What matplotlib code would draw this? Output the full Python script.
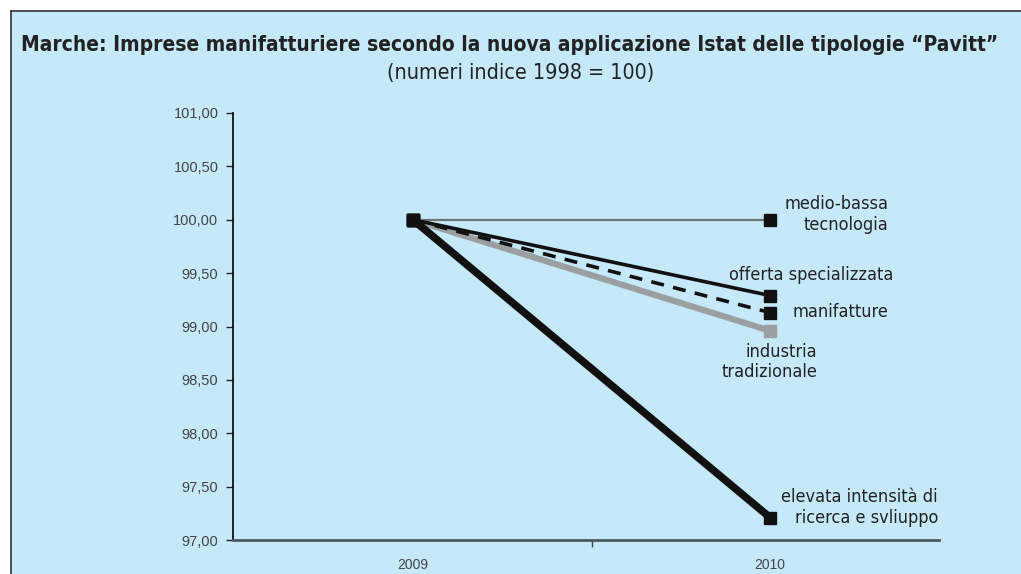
import matplotlib
matplotlib.use("Agg")
import matplotlib.pyplot as plt
from matplotlib.patches import Rectangle
from matplotlib.lines import Line2D
from matplotlib import font_manager

years = ["2009", "2010"]
medio_bassa = [100.00, 100.00]
offerta = [100.00, 99.29]
manifatture = [100.00, 99.13]
industria = [100.00, 98.96]
elevata = [100.00, 97.21]
yticks = [97.0, 97.5, 98.0, 98.5, 99.0, 99.5, 100.0, 100.5, 101.0]

names = {f.name for f in font_manager.fontManager.ttflist}
if "Liberation Sans Narrow" in names:
    cond = dict(family="Liberation Sans Narrow")
else:
    cond = dict(family="DejaVu Sans", stretch="condensed")

W, H = 1021, 574
fig = plt.figure(figsize=(W/100, H/100), dpi=100)
fig.patch.set_facecolor("white")
bg = "#c6e9f9"
fig.patches.append(Rectangle((11/W, 0), 1.0, 1 - 11/H, transform=fig.transFigure,
                             facecolor=bg, edgecolor="none", zorder=-5))
fig.lines.append(Line2D([11/W, 11/W], [0, 1 - 11/H], transform=fig.transFigure, color="#333333", lw=1.2, zorder=-4))
fig.lines.append(Line2D([11/W, 1], [1 - 11/H, 1 - 11/H], transform=fig.transFigure, color="#333333", lw=1.2, zorder=-4))

t1 = fig.text(510/W, 1 - 45/H, "Marche: Imprese manifatturiere secondo la nuova applicazione Istat delle tipologie \u201cPavitt\u201d",
              ha="center", va="center", fontsize=15, fontweight="bold", color="#222222", **cond)
t2 = fig.text(521/W, 1 - 73/H, "(numeri indice 1998 = 100)", ha="center", va="center",
              fontsize=14, color="#222222", **cond)

ax = fig.add_axes([233/W, 1 - 540/H, (939 - 233)/W, (540 - 113)/H])
ax.set_zorder(2)
ax.set_facecolor("none")
x = list(range(len(years)))

ax.plot(x, medio_bassa, color="#6f7477", lw=1.6, zorder=3)
ax.plot(x, industria, color="#9a9fa2", lw=4.5, zorder=3)
ax.plot(x, offerta, color="#111111", lw=2.6, zorder=4)
ax.plot(x, manifatture, color="#111111", lw=2.6, ls=(0, (3.6, 2.6)), zorder=4)
ax.plot(x, elevata, color="#111111", lw=5.5, zorder=5)
ms = 9
for s in [medio_bassa, offerta, manifatture, elevata]:
    ax.plot(x, s, ls="none", marker="s", ms=ms, color="#111111", zorder=6)
ax.plot([x[1]], [industria[1]], ls="none", marker="s", ms=ms, color="#9a9fa2", zorder=6)
ax.plot([x[0]], [industria[0]], ls="none", marker="s", ms=ms, color="#111111", zorder=7)

ax.set_xlim(-0.504, 1.473)
ax.set_ylim(97, 101)
ax.set_yticks(yticks)
ax.set_yticklabels([f"{v:.2f}".replace(".", ",") for v in yticks], fontsize=10.5,
                   family="Liberation Sans", color="#444444")
ax.set_xticks(x)
ax.set_xticklabels(years, fontsize=10, family="Liberation Sans", color="#444444")
ax.tick_params(axis="x", which="major", length=0, pad=13)
ax.set_xticks([0.5], minor=True)
ax.tick_params(axis="x", which="minor", length=5, width=1, color="#444444", direction="out")
ax.tick_params(axis="y", length=5, width=1, color="#222222", pad=5.5)
for sp in ["top", "right"]:
    ax.spines[sp].set_visible(False)
ax.spines["left"].set_color("#111111")
ax.spines["left"].set_linewidth(1.3)
ax.spines["bottom"].set_color("#4f5a5e")
ax.spines["bottom"].set_linewidth(2)

lab = dict(fontsize=11.5, color="#222222", textcoords="offset pixels",
           annotation_clip=False, linespacing=1.18, **cond)
labs = [
    ax.annotate("medio-bassa\ntecnologia", (x[1], medio_bassa[1]), xytext=(118, 5), ha="right", va="center", **lab),
    ax.annotate("offerta specializzata", (x[1], offerta[1]), xytext=(41, 21), ha="center", va="center", **lab),
    ax.annotate("manifatture", (x[1], manifatture[1]), xytext=(22, 1), ha="left", va="center", **lab),
    ax.annotate("industria\ntradizionale", (x[1], industria[1]), xytext=(47, -31), ha="right", va="center", **lab),
    ax.annotate("elevata intensit\u00e0 di\nricerca e svliuppo", (x[1], elevata[1]), xytext=(168, 10), ha="right", va="center", **lab),
]

# fit text widths to the reference
r = fig.canvas.get_renderer()
def scale_for(t, target):
    return target / t.get_window_extent(r).width
t1.set_fontsize(t1.get_fontsize() * scale_for(t1, 978))
t2.set_fontsize(t2.get_fontsize() * scale_for(t2, 268))
k = scale_for(labs[1], 164)
for t in labs:
    t.set_fontsize(t.get_fontsize() * k)

fig.savefig("out.png", dpi=100, facecolor="white")
